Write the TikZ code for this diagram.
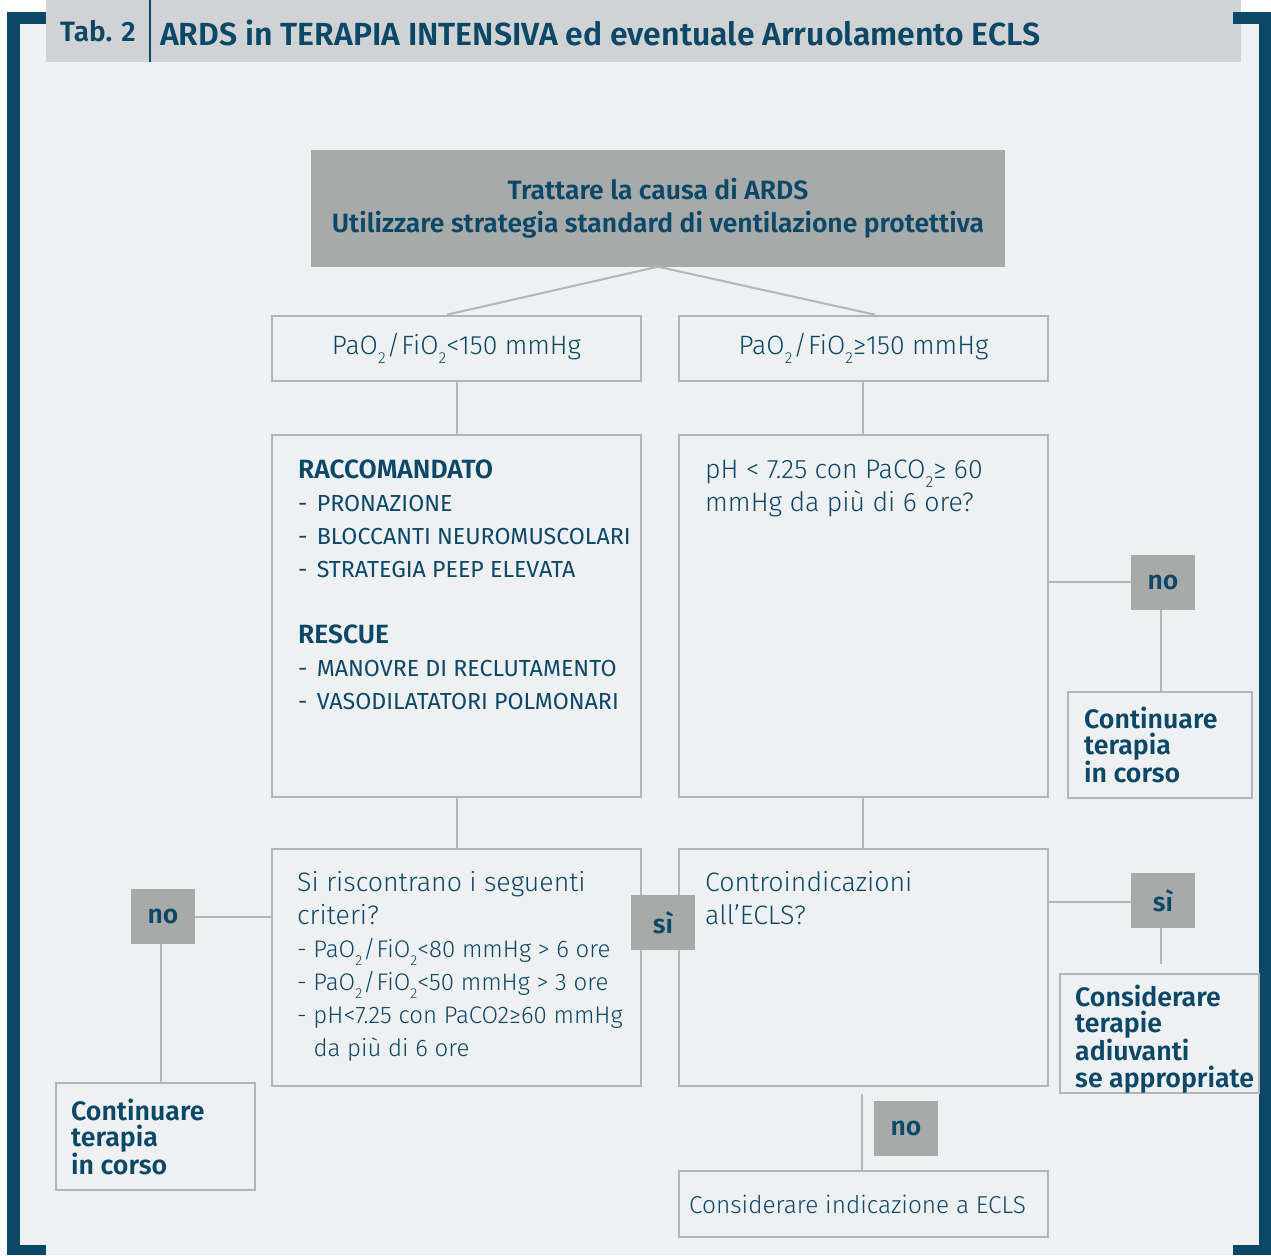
\documentclass[tikz,border=0pt]{standalone}
\usepackage{fontspec}
\setmainfont{Fira Sans}[UprightFont={* Light},BoldFont={* SemiBold}]
\newfontfamily\regfont{Fira Sans}
\usetikzlibrary{calc}
\definecolor{navy}{HTML}{0B4868}
\definecolor{bg}{HTML}{EFF0F2}
\definecolor{hdr}{HTML}{D1D2D4}
\definecolor{lblgray}{HTML}{A7AAA9}
\definecolor{bordergray}{HTML}{B3B5B6}
\newcommand\lsub[1]{\raisebox{-0.34em}{\scalebox{0.6}{#1}}}
\newcommand\pf{PaO\lsub{2}\kern1pt/\kern1ptFiO\lsub{2}}
\newcommand\itm[1]{{\regfont\fontsize{23.2}{33}\selectfont -\hspace{0.4em}#1}}
\newcommand\sml[1]{{\fontsize{24}{33}\selectfont #1}}
\begin{document}
\begin{tikzpicture}[x=1pt,y=-1pt,
  box/.style={draw=bordergray, line width=2.6pt, fill=bg, inner sep=0pt},
  gbox/.style={fill=lblgray, inner sep=0pt, text=navy, align=center},
  yn/.style={fill=lblgray, inner sep=0pt, minimum width=64pt, minimum height=55pt, text=navy, font=\fontsize{26.5}{30}\selectfont\bfseries},
  conn/.style={draw=bordergray, line width=2pt},
  tx/.style={inner sep=0pt, text=navy, align=left, anchor=north west, font=\fontsize{26.7}{33}\selectfont},
  btx/.style={inner sep=0pt, text=navy, align=left, anchor=north west, font=\fontsize{26.7}{26.4}\selectfont\bfseries}
]
\useasboundingbox (0,0) rectangle (1271,1255);
\fill[bg] (0,0) rectangle (1271,1255);
\fill[white] (0,0) rectangle (46,12);
\fill[white] (1241,0) rectangle (1271,12);
\fill[white] (0,0) rectangle (7,1255);
% header
\fill[hdr] (46,0) rectangle (1241,62);
\draw[navy, line width=2.5pt] (150,0) -- (150,62);
\node[anchor=west, inner sep=0pt, text=navy, font=\fontsize{28}{30}\selectfont\bfseries] (tab) at (60,31) {Tab. 2};
\node[anchor=west, inner sep=0pt, text=navy, font=\fontsize{32}{34}\selectfont\bfseries] (title) at (160,32.5) {ARDS in TERAPIA INTENSIVA ed eventuale Arruolamento ECLS};
% brackets
\fill[navy] (7,12) rectangle (46,24);
\fill[navy] (7,12) rectangle (20,1255);
\fill[navy] (7,1245) rectangle (46,1255);
\fill[navy] (1233,12) rectangle (1271,24);
\fill[navy] (1259,12) rectangle (1271,1255);
\fill[navy] (1233,1245) rectangle (1271,1255);

% boxes
\node[gbox, minimum width=694pt, minimum height=117pt, font=\fontsize{26.5}{33}\selectfont\bfseries] (T) at (658,208) {Trattare la causa di ARDS\\Utilizzare strategia standard di ventilazione protettiva};
\node[box, minimum width=369pt, minimum height=65pt, text=navy, font=\fontsize{26.5}{33}\selectfont] (A) at (456.5,348.5) {\pf<150 mmHg};
\node[box, minimum width=369pt, minimum height=65pt, text=navy, font=\fontsize{26.5}{33}\selectfont] (B) at (863.5,348.5) {\pf≥150 mmHg};
\node[box, minimum width=369pt, minimum height=362pt] (C) at (456.5,616) {};
\node[box, minimum width=369pt, minimum height=362pt] (D) at (863.5,616) {};
\node[box, minimum width=369pt, minimum height=237pt] (E) at (456.5,967.5) {};
\node[box, minimum width=369pt, minimum height=237pt] (F) at (863.5,967.5) {};
\node[box, minimum width=369pt, minimum height=66pt] (J) at (863.5,1204) {};
\node[box, minimum width=199pt, minimum height=107pt] (G) at (155.5,1136.5) {};
\node[box, minimum width=184pt, minimum height=106pt] (H) at (1160,745) {};
\node[box, minimum width=199pt, minimum height=119pt] (I) at (1159.5,1033.5) {};

% labels
\node[yn] (S1) at (663,922.5) {sì};
\node[yn] (N1) at (163,916.5) {no};
\node[yn] (N2) at (1163,582) {no};
\node[yn] (S2) at (1163,900.5) {sì};
\node[yn] (N3) at (906,1128.5) {no};

% texts
\node[tx, font=\fontsize{26.4}{33}\selectfont] (Ctx) at (298,460) {{\bfseries RACCOMANDATO}\\\itm{PRONAZIONE}\\\itm{BLOCCANTI NEUROMUSCOLARI}\\\itm{STRATEGIA PEEP ELEVATA}\\[33pt]{\bfseries RESCUE}\\\itm{MANOVRE DI RECLUTAMENTO}\\\itm{VASODILATATORI POLMONARI}};
\node[tx] (Dtx) at (705,460) {pH < 7.25 con PaCO\lsub{2}≥ 60\\mmHg da più di 6 ore?};
\node[tx] (Etx) at (297,871) {Si riscontrano i seguenti\\criteri?\\\sml{- \pf<80 mmHg > 6 ore}\\\sml{- \pf<50 mmHg > 3 ore}\\\sml{- pH<7.25 con PaCO2≥60 mmHg}\\\sml{\phantom{- }da più di 6 ore}};
\node[tx] (Ftx) at (705,871) {Controindicazioni\\all’ECLS?};
\node[tx, anchor=west, font=\fontsize{24.4}{30}\selectfont] (Jtx) at (689,1204) {Considerare indicazione a ECLS};
\node[btx] (Gtx) at (71,1098.5) {Continuare\\terapia\\in corso};
\node[btx] (Htx) at (1084,706.5) {Continuare\\terapia\\in corso};
\node[btx] (Itx) at (1075,984.5) {Considerare\\terapie\\adiuvanti\\se appropriate};

% connectors
\draw[conn] (T.south) -- ($(A.north)+(-9.5,0)$);
\draw[conn] (T.south) -- ($(B.north)+(11.5,0)$);
\draw[conn] (A.south) -- (C.north);
\draw[conn] ($(B.south)+(-1,0)$) -- ($(D.north)+(-1,0)$);
\draw[conn] (C.south) -- (E.north);
\draw[conn] ($(D.south)+(-1,0)$) -- ($(F.north)+(-1,0)$);
\draw[conn] (N1.east) -- (N1.east -| E.west);
\draw[conn] ($(N1.south)+(-2,0)$) -- ($(N1.south |- G.north)+(-2,0)$);
\draw[conn] (N2.west -| D.east) -- (N2.west);
\draw[conn] ($(N2.south)+(-2,0)$) -- ($(N2.south |- H.north)+(-2,0)$);
\draw[conn] ($(S2.west -| F.east)+(0,1.5)$) -- ($(S2.west)+(0,1.5)$);
\draw[conn] ($(S2.south)+(-2,0)$) -- ($(S2.south |- I.north)+(-2,-9)$);
\draw[conn] ($(F.south)+(-1.5,7)$) -- ($(J.north)+(-1.5,0)$);
\end{tikzpicture}
\end{document}
